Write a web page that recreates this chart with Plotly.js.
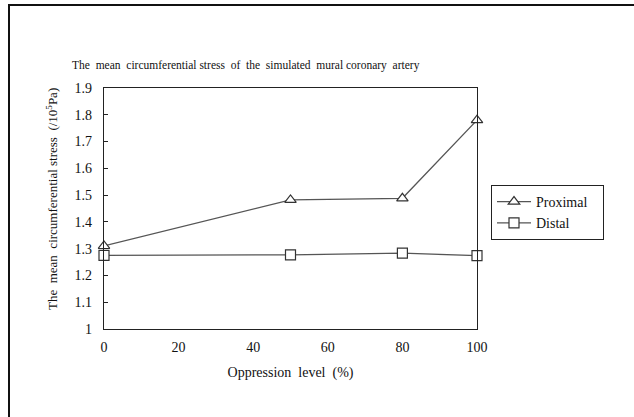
<!DOCTYPE html>
<html>
<head>
<meta charset="utf-8">
<script src="https://cdn.plot.ly/plotly-3.0.1.min.js"></script>
<style>html,body{margin:0;padding:0;background:#fff;}#chart{width:634px;height:417px;}</style>
</head>
<body>
<div id="chart"></div>
<script>
var levels = [0, 50, 80, 100];
var proximal = [1.31, 1.482, 1.488, 1.78];
var distal = [1.275, 1.277, 1.283, 1.274];
var seriesNames = ["Proximal", "Distal"];
var xTicks = [0, 20, 40, 60, 80, 100];
var yTicks = [1, 1.1, 1.2, 1.3, 1.4, 1.5, 1.6, 1.7, 1.8, 1.9];

var serif = "Liberation Serif";

var traces = [
  {x: levels, y: proximal, name: seriesNames[0] + "   ", mode: "lines+markers", cliponaxis: false,
   line: {color: "#555", width: 1.3},
   marker: {symbol: "triangle-up", size: 10, color: "#fff", line: {color: "#333", width: 1.2}}},
  {x: levels, y: distal, name: seriesNames[1], mode: "lines+markers", cliponaxis: false,
   line: {color: "#555", width: 1.3},
   marker: {symbol: "square", size: 10, color: "#fff", line: {color: "#333", width: 1.2}}}
];

var layout = {
  width: 634, height: 417,
  margin: {l: 104, r: 157, t: 88, b: 88},
  paper_bgcolor: "#fff", plot_bgcolor: "#fff",
  font: {family: serif, color: "#111", size: 12},
  showlegend: true,
  title: {text: "The  mean  circumferential stress  of  the  simulated  mural coronary  artery",
          font: {family: serif, size: 11.5, color: "#111"},
          xref: "container", x: 72/634, xanchor: "left",
          yref: "container", y: 1 - 65/417, yanchor: "middle"},
  xaxis: {range: [0, 100], tickvals: xTicks, ticktext: xTicks.map(String),
          showgrid: false, zeroline: false, showline: true, mirror: true,
          linecolor: "#222", linewidth: 1.3, ticks: "", ticklabelstandoff: 5,
          tickfont: {family: serif, size: 14, color: "#111"},
          title: {text: "Oppression  level  (%)", font: {family: serif, size: 14, color: "#111"}, standoff: 13}},
  yaxis: {range: [1, 1.9], tickvals: yTicks, ticktext: yTicks.map(function(v){return String(v);}),
          showgrid: false, zeroline: false, showline: true, mirror: true,
          linecolor: "#222", linewidth: 1.3, ticks: "inside", ticklen: 4, tickcolor: "#222",
          ticklabelstandoff: 8,
          tickfont: {family: serif, size: 14, color: "#111"}},
  legend: {x: (491-104)/373, xanchor: "left", y: (329-185)/241, yanchor: "top",
           bordercolor: "#222", borderwidth: 1, bgcolor: "#fff",
           font: {family: serif, size: 14, color: "#111"},
           itemwidth: 34, tracegroupgap: 8},
  annotations: [
    {text: "The  mean  circumferential stress  (/10<sup>5</sup>Pa)", textangle: -90,
     xref: "paper", yref: "paper", x: (52-104)/373, y: (329-199)/241,
     xanchor: "center", yanchor: "middle", showarrow: false,
     font: {family: serif, size: 13, color: "#111"}}
  ],
  shapes: [
    {type: "rect", xref: "paper", yref: "paper",
     x0: (9-104)/373, x1: (645-104)/373, y0: (329-425)/241, y1: (329-5)/241,
     line: {color: "#111", width: 2}, fillcolor: "rgba(0,0,0,0)", layer: "above"}
  ]
};

Plotly.newPlot("chart", traces, layout, {displayModeBar: false, staticPlot: true});
</script>
</body>
</html>
